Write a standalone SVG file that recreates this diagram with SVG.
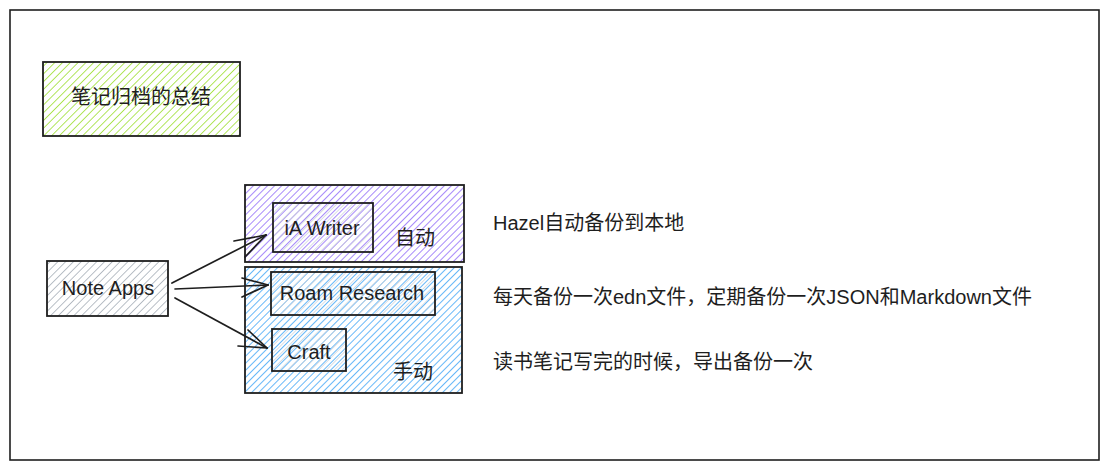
<svg xmlns="http://www.w3.org/2000/svg" width="1109" height="469" viewBox="0 0 1109 469">
  <defs>
    <pattern id="hGreen" width="5.5" height="6" patternUnits="userSpaceOnUse" patternTransform="rotate(45)">
      <line x1="0" y1="0" x2="0" y2="6" stroke="#a9e34b" stroke-width="1.8"/>
    </pattern>
    <pattern id="hPurple" width="5" height="6" patternUnits="userSpaceOnUse" patternTransform="rotate(45)">
      <line x1="0" y1="0" x2="0" y2="6" stroke="#9775fa" stroke-width="1.7"/>
    </pattern>
    <pattern id="hBlue" width="5" height="6" patternUnits="userSpaceOnUse" patternTransform="rotate(45)">
      <line x1="0" y1="0" x2="0" y2="6" stroke="#4dabf7" stroke-width="1.7"/>
    </pattern>
    <pattern id="hGray" width="5.5" height="6" patternUnits="userSpaceOnUse" patternTransform="rotate(45)">
      <line x1="0" y1="0" x2="0" y2="6" stroke="#adb5bd" stroke-width="1.7"/>
    </pattern>
    <pattern id="hGrayLight" width="5.5" height="6" patternUnits="userSpaceOnUse" patternTransform="rotate(45) translate(2.5,0)">
      <line x1="0" y1="0" x2="0" y2="6" stroke="#ced4da" stroke-width="1.5"/>
    </pattern>
  </defs>
  <style>
    .box { stroke: #1e1e1e; stroke-width: 1.8; }
    .t { font-family: "Liberation Sans", "Noto Sans CJK SC", sans-serif; font-size: 20px; fill: #1e1e1e; dominant-baseline: central; }
    .c { text-anchor: middle; }
    .conn line { stroke: #1e1e1e; stroke-width: 1.7; stroke-linecap: round; }
  </style>

  <rect width="1109" height="469" fill="#ffffff"/>
  <g id="frame">
    <rect x="10" y="10" width="1089" height="450" fill="none" stroke="#1e1e1e" stroke-width="1.6"/>
  </g>

  <g id="title">
    <rect class="box" x="43" y="62" width="197" height="74" fill="url(#hGreen)"/>
    <text class="t c" x="141" y="97">笔记归档的总结</text>
  </g>

  <g id="auto-group">
    <rect class="box" x="245" y="185" width="219" height="77" fill="url(#hPurple)"/>
    <text class="t c" x="415" y="238">自动</text>
  </g>

  <g id="manual-group">
    <rect class="box" x="245" y="267" width="217" height="126" fill="url(#hBlue)"/>
    <text class="t c" x="413" y="372">手动</text>
  </g>

  <g id="note-apps">
    <rect class="box" x="47" y="261" width="121" height="55" fill="url(#hGray)"/>
    <text class="t c" x="108" y="288">Note Apps</text>
  </g>

  <g id="ia-writer">
    <rect class="box" x="273" y="203" width="100" height="49" fill="url(#hGrayLight)"/>
    <text class="t c" x="322" y="228">iA Writer</text>
  </g>

  <g id="roam">
    <rect class="box" x="271" y="272" width="164" height="43" fill="url(#hGrayLight)"/>
    <text class="t c" x="352" y="293">Roam Research</text>
  </g>

  <g id="craft">
    <rect class="box" x="272" y="329" width="74" height="42" fill="url(#hGrayLight)"/>
    <text class="t c" x="309" y="352">Craft</text>
  </g>

  <g class="conn" id="connectors">
    <line x1="172" y1="283" x2="266" y2="235"/>
    <line x1="266" y1="235" x2="234" y2="241"/>
    <line x1="266" y1="235" x2="245" y2="257"/>

    <line x1="175" y1="289" x2="268" y2="285"/>
    <line x1="268" y1="285" x2="242" y2="278"/>
    <line x1="268" y1="285" x2="242" y2="297"/>

    <line x1="175" y1="298" x2="267" y2="348"/>
    <line x1="267" y1="348" x2="248" y2="330"/>
    <line x1="267" y1="348" x2="238" y2="346"/>
  </g>

  <g id="notes">
    <text class="t" x="493" y="223">Hazel自动备份到本地</text>
    <text class="t" x="493" y="297">每天备份一次edn文件，定期备份一次JSON和Markdown文件</text>
    <text class="t" x="493" y="362">读书笔记写完的时候，导出备份一次</text>
  </g>
</svg>
